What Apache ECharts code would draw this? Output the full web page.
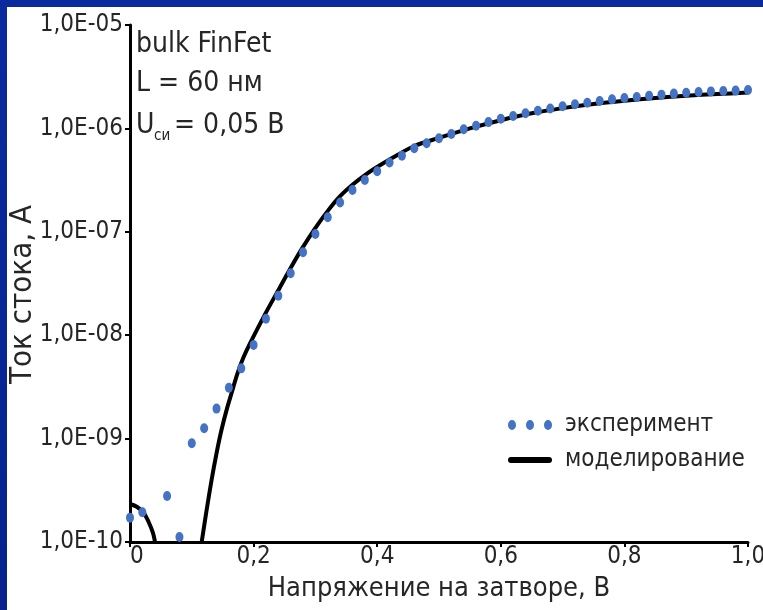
<!DOCTYPE html>
<html>
<head>
<meta charset="utf-8">
<script src="https://cdn.jsdelivr.net/npm/echarts@6/dist/echarts.min.js"></script>
<style>
  html, body { margin: 0; padding: 0; width: 763px; height: 610px; overflow: hidden;
    background: linear-gradient(180deg, #0a2a9e 0%, #07228c 100%); }
  #chart { position: absolute; left: 7px; top: 7px; width: 756px; height: 603px; background: #ffffff; }
</style>
</head>
<body>
<div id="chart"></div>
<script>
// Gate voltage, V (measured points every 20 mV)
const expV = [0.00, 0.02, 0.04, 0.06, 0.08, 0.10, 0.12, 0.14, 0.16, 0.18,
              0.20, 0.22, 0.24, 0.26, 0.28, 0.30, 0.32, 0.34, 0.36, 0.38,
              0.40, 0.42, 0.44, 0.46, 0.48, 0.50, 0.52, 0.54, 0.56, 0.58,
              0.60, 0.62, 0.64, 0.66, 0.68, 0.70, 0.72, 0.74, 0.76, 0.78,
              0.80, 0.82, 0.84, 0.86, 0.88, 0.90, 0.92, 0.94, 0.96, 0.98, 1.00];
// Measured drain current, A (null = below the axis floor)
const expI = [1.72e-10, 1.94e-10, null, 2.79e-10, 1.12e-10, 9.0e-10, 1.26e-9, 1.95e-9, 3.10e-9, 4.78e-9,
              8.04e-9, 1.44e-8, 2.41e-8, 3.97e-8, 6.34e-8, 9.52e-8, 1.38e-7, 1.92e-7, 2.54e-7, 3.17e-7,
              3.85e-7, 4.68e-7, 5.44e-7, 6.42e-7, 7.18e-7, 8.02e-7, 8.83e-7, 9.80e-7, 1.06e-6, 1.15e-6,
              1.24e-6, 1.32e-6, 1.40e-6, 1.48e-6, 1.56e-6, 1.64e-6, 1.71e-6, 1.77e-6, 1.84e-6, 1.91e-6,
              1.97e-6, 2.01e-6, 2.07e-6, 2.12e-6, 2.17e-6, 2.21e-6, 2.25e-6, 2.28e-6, 2.30e-6, 2.32e-6, 2.35e-6];

// Simulated curve: gate voltage, V and drain current, A (null breaks the line)
const simV = [0.000, 0.011, 0.022, 0.030, 0.037, 0.0405, 0.08,
              0.116, 0.124, 0.132, 0.140, 0.148, 0.157, 0.165, 0.173, 0.183, 0.194,
              0.221, 0.240, 0.259, 0.278, 0.299, 0.321, 0.340, 0.361, 0.383, 0.405, 0.432,
              0.46, 0.50, 0.55, 0.60, 0.65, 0.70, 0.75, 0.80, 0.85, 0.90, 0.95, 1.00];
const simI = [2.33e-10, 2.19e-10, 1.92e-10, 1.57e-10, 1.23e-10, 1.0e-10, null,
              1.0e-10, 2.04e-10, 3.98e-10, 7.21e-10, 1.21e-9, 1.96e-9, 2.84e-9, 4.12e-9, 5.98e-9, 8.3e-9,
              1.70e-8, 2.72e-8, 4.37e-8, 6.84e-8, 1.07e-7, 1.62e-7, 2.21e-7, 2.88e-7, 3.63e-7, 4.42e-7, 5.50e-7,
              6.76e-7, 8.1e-7, 1.0e-6, 1.2e-6, 1.4e-6, 1.57e-6, 1.72e-6, 1.85e-6, 1.97e-6, 2.07e-6, 2.15e-6, 2.22e-6];

const xTickLabels = ['0', '0,2', '0,4', '0,6', '0,8', '1,0'];
const yTickLabels = ['1,0E-10', '1,0E-09', '1,0E-08', '1,0E-07', '1,0E-06', '1,0E-05'];

const seriesNames = ['эксперимент', 'моделирование'];

const FONT = "'Liberation Sans Narrow', 'Arial Narrow', 'DejaVu Sans Condensed', sans-serif";
const TEXT = '#262626';

const pairs = (xs, ys) => xs.map((x, i) => [x, ys[i]]);

// legend markers: three dots for the measurements, a thick rounded bar for the model
// (the zero-area strokes at y=0 and y=10 only fix the marker's box height)
const dotsIcon = 'path://M0,5 a4,5 0 1,0 8,0 a4,5 0 1,0 -8,0 Z ' +
                 'M18,5 a4,5 0 1,0 8,0 a4,5 0 1,0 -8,0 Z ' +
                 'M36,5 a4,5 0 1,0 8,0 a4,5 0 1,0 -8,0 Z';
const barIcon = 'path://M0,0 L44,0 M0,10 L44,10 ' +
                'M3,2 L41,2 A3,3 0 0,1 41,8 L3,8 A3,3 0 0,1 3,2 Z';

const chart = echarts.init(document.getElementById('chart'), null, { renderer: 'canvas' });

chart.setOption({
  animation: false,
  backgroundColor: '#ffffff',
  grid: { left: 123, right: 15, top: 18, bottom: 68, containLabel: false, outerBoundsMode: 'none' },
  xAxis: {
    type: 'value', min: 0, max: 1, interval: 0.2,
    name: 'Напряжение на затворе, В', nameLocation: 'middle', nameGap: 33,
    nameTextStyle: { fontFamily: FONT, fontSize: 27, color: TEXT },
    axisLine: { lineStyle: { color: '#000', width: 3 } },
    axisTick: { show: true, length: 5, inside: false, lineStyle: { color: '#000', width: 2 } },
    axisLabel: {
      margin: 3, fontFamily: FONT, fontSize: 24, color: TEXT, alignMinLabel: 'left',
      formatter: (v) => xTickLabels[Math.round(v / 0.2)]
    },
    splitLine: { show: false }
  },
  yAxis: {
    type: 'log', logBase: 10, min: 1e-10, max: 1e-5,
    name: 'Ток стока, А', nameLocation: 'middle', nameGap: 92, nameRotate: 90,
    nameMoveOverlap: false,
    nameTextStyle: { fontFamily: FONT, fontSize: 31, color: TEXT, padding: [0, 22, 0, 0] },
    axisLine: { show: true, lineStyle: { color: '#000', width: 3 } },
    axisTick: { show: true, length: 5, lineStyle: { color: '#000', width: 2 } },
    axisLabel: {
      margin: 7, fontFamily: FONT, fontSize: 24, color: TEXT,
      formatter: (v) => yTickLabels[Math.round(Math.log10(v)) + 10]
    },
    splitLine: { show: false }
  },
  legend: {
    orient: 'vertical', left: 501, top: 403, itemGap: 5, padding: 0,
    itemWidth: 44, itemHeight: 10,
    textStyle: { fontFamily: FONT, fontSize: 24, color: TEXT, lineHeight: 30, padding: [0, 0, 0, 8] },
    data: [
      { name: seriesNames[0], icon: dotsIcon, itemStyle: { color: '#4472c4' } },
      { name: seriesNames[1], icon: barIcon, itemStyle: { color: '#000', borderWidth: 0 } }
    ]
  },
  graphic: [
    { type: 'text', left: 129, top: 24, style: { text: 'bulk FinFet', font: '28px ' + FONT, fill: TEXT } },
    { type: 'text', left: 129, top: 63, style: { text: 'L = 60 нм', font: '28px ' + FONT, fill: TEXT } },
    { type: 'text', left: 129, top: 105, style: { text: 'U', font: '28px ' + FONT, fill: TEXT } },
    { type: 'text', left: 147, top: 122, style: { text: 'си', font: '15px ' + FONT, fill: TEXT } },
    { type: 'text', left: 167, top: 105, style: { text: '= 0,05 В', font: '28px ' + FONT, fill: TEXT } }
  ],
  series: [
    {
      name: seriesNames[1], type: 'line', data: pairs(simV, simI),
      smooth: 0.3, symbol: 'none', showSymbol: false, connectNulls: false, clip: true,
      lineStyle: { color: '#000', width: 4 }, itemStyle: { color: '#000' }, z: 2
    },
    {
      name: seriesNames[0], type: 'scatter', data: pairs(expV, expI),
      symbol: 'circle', symbolSize: [8, 10], clip: false,
      itemStyle: { color: '#4472c4', opacity: 1 }, z: 3
    }
  ]
});
</script>
</body>
</html>
